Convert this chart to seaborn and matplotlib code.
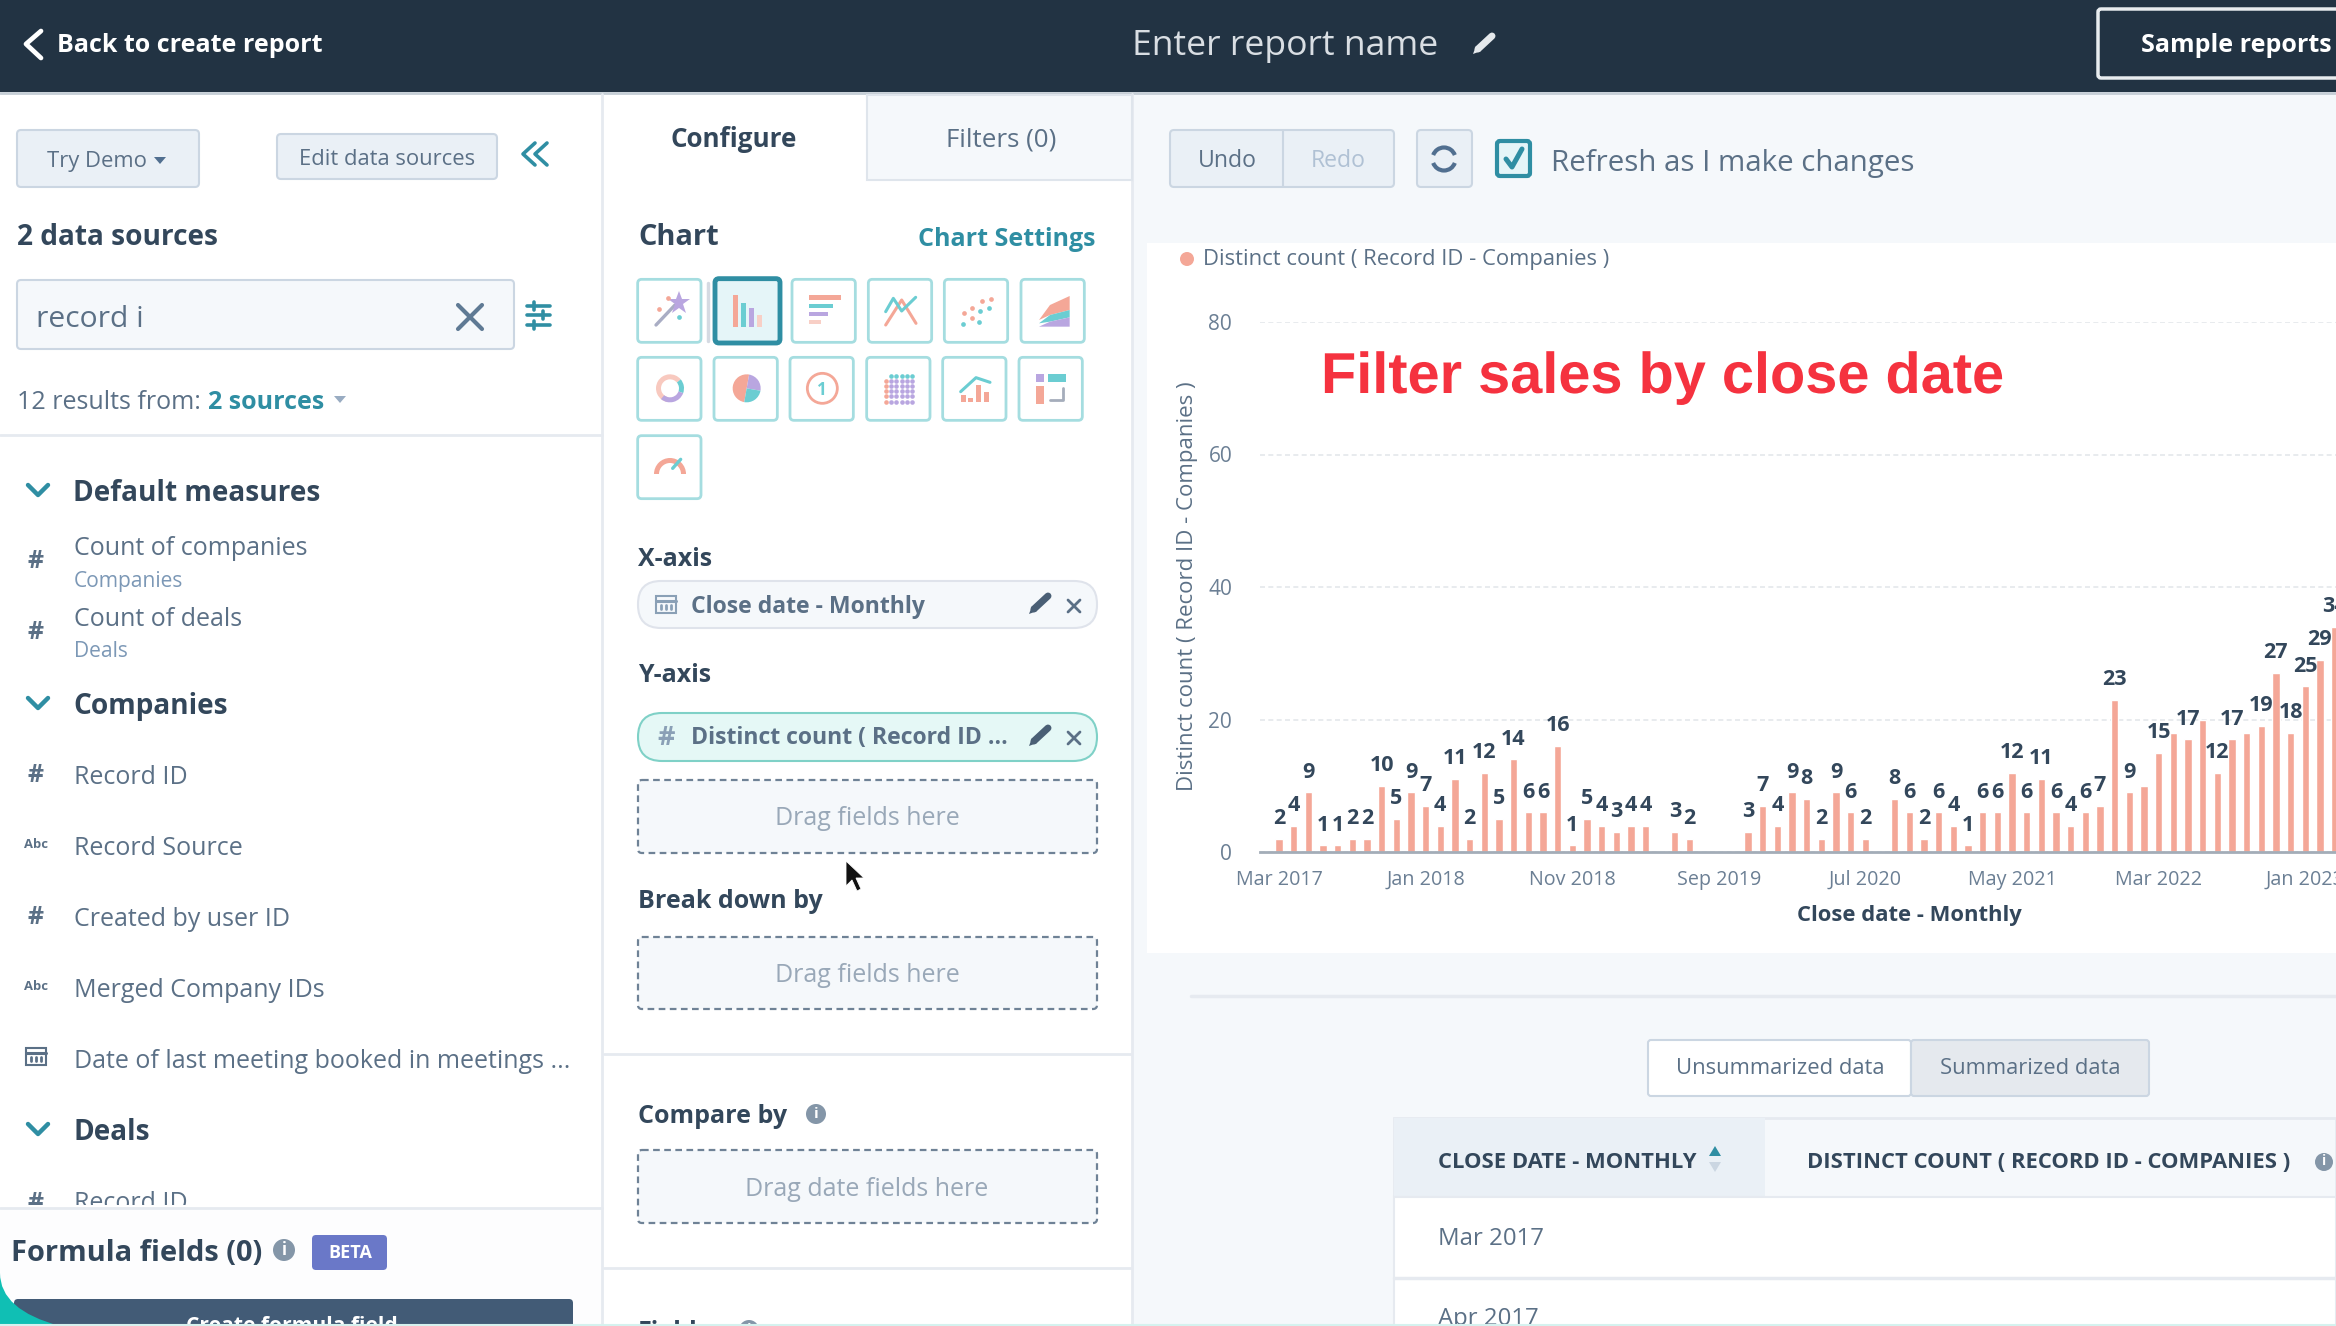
import numpy as np
import pandas as pd
import seaborn as sns
import matplotlib
matplotlib.use("Agg")
import matplotlib.pyplot as plt
import matplotlib.patheffects as pe
from matplotlib.patches import FancyBboxPatch, Rectangle, Circle, Wedge, Polygon, Arc, PathPatch
from matplotlib.path import Path

# chart data
values = [2, 4, 9, 1, 1, 2, 2, 10, 5, 9,
          7, 4, 11, 2, 12, 5, 14, 6, 6, 16, 1, 5,
          4, 3, 4, 4, 0, 3, 2, 0, 0, 0, 3, 7,
          4, 9, 8, 2, 9, 6, 2, 0, 8, 6, 2, 6,
          4, 1, 6, 6, 12, 6, 11, 6, 4, 6, 7, 23,
          9, 10, 15, 18, 17, 20, 12, 17, 18, 19, 27, 18,
          25, 29, 34]
months = pd.date_range("2017-03-01", periods=len(values), freq="MS").strftime("%b %Y").tolist()
hidden_labels = ["Feb 2022", "Apr 2022", "Jun 2022", "Sep 2022"]
tick_labels = ["Mar 2017", "Jan 2018", "Nov 2018", "Sep 2019", "Jul 2020", "May 2021", "Mar 2022", "Jan 2023"]
y_ticks = [0, 20, 40, 60, 80]

W, H = 2336, 1326
DARK = "#33475b"
MID = "#5b7086"
SOFT = "#7c98b6"
TEAL = "#2f8ea3"
SALMON = "#f4a797"
ICON_TEAL = "#6bcdd2"
PURPLE = "#b9a6e0"
LINE = "#e6eaf0"
BG = "#f5f8fb"

sns.set_theme(style="white")
plt.rcParams["font.family"] = ["Open Sans", "DejaVu Sans"]

fig = plt.figure(figsize=(W / 100, H / 100), dpi=100, facecolor="white")
ui = fig.add_axes([0, 0, 1, 1], zorder=0)
ui.set_xlim(0, W)
ui.set_ylim(H, 0)
ui.axis("off")


def txt(x, y, s, px, color=DARK, weight="normal", ha="left", **kw):
    # Open Sans sits a little high when centred, so push it down
    return ui.text(x, y + px * 0.11, s, fontsize=px * 0.72, color=color, fontweight=weight, ha=ha, va="center", **kw)


def box(x0, y0, x1, y1, fc="white", ec="none", lw=1.5, r=3, ls="-", z=1):
    ui.add_patch(FancyBboxPatch((x0, y0), x1 - x0, y1 - y0, boxstyle=f"round,pad=0,rounding_size={r}",
                                fc=fc, ec=ec, lw=lw, ls=ls, zorder=z))


def seg(xs, ys, color=DARK, lw=2, z=3):
    ui.plot(xs, ys, color=color, lw=lw, solid_capstyle="round", zorder=z)


def cross(x, y, r, color=MID, lw=2):
    seg([x - r, x + r], [y - r, y + r], color, lw)
    seg([x - r, x + r], [y + r, y - r], color, lw)


def chevron_down(x, y, color=TEAL):
    seg([x - 10, x, x + 10], [y - 5, y + 5, y - 5], color, 3.2)


def pencil(x, y, color="#4a5f75"):
    seg([x - 6, x + 8], [y + 6, y - 7], color, 5)
    ui.add_patch(Polygon([[x - 11, y + 11], [x - 8, y + 3], [x - 3, y + 8]], fc=color, ec="none", zorder=3))


def info(x, y, r=10):
    ui.add_patch(Circle((x, y), r, fc="#8496a8", ec="none", zorder=3))
    txt(x, y - 2, "i", r * 1.5, "white", "bold", ha="center", zorder=4)


def calendar(x, y, color=MID):
    ui.add_patch(Rectangle((x - 10, y - 8), 20, 17, fc="none", ec=color, lw=1.5, zorder=3))
    seg([x - 10, x + 10], [y - 3, y - 3], color, 2.2)
    for dx in [-5, 0, 5]:
        seg([x + dx, x + dx], [y + 1, y + 5], color, 2)


def caret(x, y, color="#516f90", r=6):
    ui.add_patch(Polygon([[x - r, y - 3], [x + r, y - 3], [x, y + 4]], fc=color, ec="none", zorder=3))


# panels and top bar
ui.add_patch(Rectangle((1133, 92), W - 1133, H - 92, fc=BG, ec="none", zorder=0))
ui.add_patch(Rectangle((0, 0), W, 92, fc="#223343", ec="none", zorder=1))
seg([0, W], [93, 93], "#c5ced6", 2, z=1)
seg([602, 602], [94, H], LINE, 2, z=1)
seg([1132, 1132], [94, H], LINE, 2, z=1)

seg([41, 26, 41], [31, 44, 58], "white", 3.4)
txt(57, 43, "Back to create report", 25, "white", "bold")
txt(1132, 42, "Enter report name", 35.5, "#d9dee3")
pencil(1484, 43, "#e5e9ec")
box(2098, 9, 2400, 78, "#223343", "#e8ecef", 2.5)
txt(2141, 43, "Sample reports", 25, "white", "bold")

# left panel, top
box(17, 130, 199, 187, "#eaf0f6", "#cbd6e2", r=4)
txt(47, 159, "Try Demo", 22, MID)
caret(160, 160)
box(277, 134, 497, 179, "#eaf0f6", "#cbd6e2", r=4)
txt(387, 157, "Edit data sources", 22, MID, ha="center")
seg([535, 523, 535], [143, 154, 165], TEAL, 2.6)
seg([547, 535, 547], [143, 154, 165], TEAL, 2.6)
txt(17, 234, "2 data sources", 28, DARK, "bold")
box(17, 280, 514, 349, BG, "#cbd6e2", r=4)
txt(36, 316, "record i", 30, MID)
cross(470, 317, 12, "#5f7a94", 3)
for fy, fx in zip([306, 315, 325], [534, 543, 534]):
    seg([527, 550], [fy, fy], TEAL, 2.6)
    seg([fx, fx], [fy - 4, fy + 4], TEAL, 2.6)
txt(17, 400, "12 results from:", 25, MID)
txt(208, 400, "2 sources", 25, TEAL, "bold")
caret(340, 399, "#99acc2")
seg([0, 602], [435, 435], LINE, 2)

# field list
for label, y in [("Default measures", 490), ("Companies", 703), ("Deals", 1129)]:
    chevron_down(38, y)
    txt(73, y, label, 28, DARK, "bold")
for label, y in [("Count of companies", 546), ("Count of deals", 617)]:
    txt(74, y, label, 25, MID)
    txt(36, y + 13, "#", 25, MID, "bold", ha="center")
txt(74, 579, "Companies", 21, SOFT)
txt(74, 649, "Deals", 21, SOFT)
for label, y, kind in [("Record ID", 775, "#"), ("Record Source", 846, "Abc"), ("Created by user ID", 917, "#"),
                       ("Merged Company IDs", 988, "Abc"), ("Date of last meeting booked in meetings ...", 1059, "cal")]:
    txt(74, y, label, 25, MID)
    if kind == "#":
        txt(36, y - 2, "#", 25, MID, "bold", ha="center")
    elif kind == "Abc":
        txt(36, y - 3, "Abc", 13, MID, "bold", ha="center")
    else:
        calendar(36, y - 3)
# last row of the list is cut by the formula section, only the top of it shows
for part in [txt(74, 1201, "Record ID", 25, MID), txt(36, 1201, "#", 25, MID, "bold", ha="center")]:
    part.set_clip_on(True)
    part.set_clip_path(Rectangle((0, 1126), W, 79, transform=ui.transData))
seg([0, 602], [1208, 1208], LINE, 2)
ui.add_patch(Rectangle((0, 1209), 601, H - 1209, fc="#fdfdfe", ec="none", zorder=2))

# formula section
txt(11, 1250, "Formula fields (0)", 29, DARK, "bold", zorder=4)
info(284, 1250, 11)
box(312, 1235, 387, 1270, "#6a78c8", "none", r=4, z=3)
txt(350, 1251, "BETA", 18, "white", "bold", ha="center", zorder=4)
box(14, 1299, 573, 1400, "#425b76", "none", r=4, z=4)
txt(292, 1324, "Create formula field", 21, "white", "bold", ha="center", zorder=5)
corner = Path([(0, 1273), (0, 1310), (60, 1326), (0, 1326), (0, 1273)],
              [Path.MOVETO, Path.CURVE3, Path.CURVE3, Path.LINETO, Path.CLOSEPOLY])
ui.add_patch(PathPatch(corner, fc="#10bfb4", ec="none", zorder=6))

# middle panel tabs
box(867, 95, 1132, 180, BG, "#dfe5ec", r=0)
txt(734, 137, "Configure", 26, DARK, "bold", ha="center")
txt(1001, 137, "Filters (0)", 26, MID, ha="center")
txt(638, 234, "Chart", 29, DARK, "bold")
txt(1096, 237, "Chart Settings", 25, TEAL, "bold", ha="right")

# chart type tiles, offsets taken from a 3x crop
zx = lambda v: 620 + v / 3
zy = lambda v: 210 + v / 3
for lefts, top in [([53, 516, 745, 973, 1203], 208), ([53, 282, 510, 740, 968, 1197], 442), ([53], 677)]:
    for left in lefts:
        box(zx(left), zy(top), zx(left + 190), zy(top + 189), "white", "#a5dde0", 2, r=4)
box(zx(285), zy(206), zx(480), zy(399), "#e5f5f8", TEAL, 3.5, r=4)
seg([zx(263), zx(263)], [zy(218), zy(392)], "#d5dae2", 2.5)


def rect(x0, y0, x1, y1, color):
    ui.add_patch(Rectangle((zx(x0), zy(y0)), (x1 - x0) / 3, (y1 - y0) / 3, fc=color, ec="none", zorder=3))


def dots(points, color, size=3.4, marker="o"):
    ui.plot([zx(p[0]) for p in points], [zy(p[1]) for p in points], marker, color=color, ms=size, mew=0, zorder=3)


def poly(points, color):
    ui.add_patch(Polygon([[zx(a), zy(b)] for a, b in points], fc=color, ec="none", zorder=3))


# wand
seg([zx(108), zx(165)], [zy(345), zy(285)], "#a9adc4", 2.4)
dots([(178, 278)], PURPLE, 17, "*")
dots([(143, 263), (118, 297)], SALMON, 3.4)
dots([(176, 320)], ICON_TEAL, 3.4)
# bars
rect(338, 255, 355, 350, SALMON)
rect(362, 278, 377, 350, ICON_TEAL)
rect(387, 293, 402, 350, PURPLE)
rect(412, 316, 427, 350, "#f8cfc6")
# horizontal bars
rect(566, 256, 663, 271, SALMON)
rect(566, 281, 640, 294, ICON_TEAL)
rect(566, 305, 623, 318, PURPLE)
rect(566, 330, 603, 343, "#f8cfc6")
# lines
seg([zx(v) for v in [797, 845, 888]], [zy(v) for v in [345, 270, 340]], SALMON, 2.2)
seg([zx(v) for v in [797, 820, 845, 887]], [zy(v) for v in [305, 265, 303, 262]], ICON_TEAL, 2.2)
# scatter
dots([(1032, 310), (1057, 293), (1085, 272), (1112, 266), (1057, 325)], SALMON)
dots([(1030, 342), (1077, 335), (1080, 303), (1107, 293)], ICON_TEAL)
# area
poly([(1257, 330), (1290, 285), (1349, 258), (1349, 300), (1290, 315)], SALMON)
poly([(1257, 340), (1290, 315), (1349, 300), (1349, 322), (1290, 335)], ICON_TEAL)
poly([(1257, 350), (1290, 335), (1349, 322), (1349, 350)], PURPLE)
# donut
dc = (zx(150), zy(535))
ui.add_patch(Wedge(dc, 14, 100, 320, width=5, fc="#f8c9bf", ec="none", zorder=3))
ui.add_patch(Wedge(dc, 14, 320, 20, width=5, fc=ICON_TEAL, ec="none", zorder=3))
ui.add_patch(Wedge(dc, 14, 20, 130, width=5, fc=PURPLE, ec="none", zorder=3))
# pie
pc = (zx(380), zy(535))
ui.add_patch(Wedge(pc, 14, 100, 280, fc=SALMON, ec="none", zorder=3))
ui.add_patch(Wedge(pc, 14, 280, 10, fc=PURPLE, ec="none", zorder=3))
ui.add_patch(Wedge(pc, 14, 10, 100, fc=ICON_TEAL, ec="none", zorder=3))
# single number
ui.add_patch(Circle((zx(607), zy(535)), 15, fc="none", ec=SALMON, lw=2, zorder=3))
txt(zx(607), zy(533), "1", 17, ICON_TEAL, "bold", ha="center", zorder=4)
# table grid
for r_i in range(6):
    for c_i in range(6):
        col = ICON_TEAL if r_i == 0 else (SALMON if c_i == 0 else PURPLE)
        if r_i == 0 and c_i == 0:
            continue
        dots([(797 + c_i * 16, 497 + r_i * 15.5)], col, 3.3)
# combo
rect(1022, 555, 1038, 577, SALMON)
rect(1045, 565, 1060, 577, SALMON)
rect(1067, 525, 1082, 577, SALMON)
rect(1092, 547, 1106, 577, SALMON)
seg([zx(v) for v in [1022, 1068, 1110]], [zy(v) for v in [545, 503, 517]], ICON_TEAL, 2.2)
# pivot
rect(1247, 493, 1271, 516, PURPLE)
rect(1285, 493, 1337, 516, ICON_TEAL)
rect(1247, 528, 1271, 582, SALMON)
seg([zx(v) for v in [1290, 1330, 1330]], [zy(v) for v in [570, 570, 535]], "#a5adbb", 2)
# gauge
ui.add_patch(Wedge((zx(150), zy(792)), 16, 180, 360, width=5, fc=SALMON, ec="none", zorder=3))
seg([zx(158), zx(182)], [zy(775), zy(748)], ICON_TEAL, 2.4)

# axis wells
txt(638, 557, "X-axis", 25, DARK, "bold")
box(638, 581, 1097, 628, BG, "#dfe3eb", r=23)
calendar(666, 604, "#8aa0b6")
txt(691, 604, "Close date - Monthly", 23, MID, "bold")
pencil(1040, 603)
cross(1074, 606, 6)
txt(638, 673, "Y-axis", 25, DARK, "bold")
box(638, 713, 1097, 761, "#e5f8f6", "#7fd1c7", r=24)
txt(666, 735, "#", 27, "#8aa0b6", "bold", ha="center")
txt(691, 735, "Distinct count ( Record ID ...", 23, MID, "bold")
pencil(1040, 735)
cross(1074, 738, 6)
for y0, y1, tx_y, label in [(780, 853, 816, "Drag fields here"), (937, 1009, 973, "Drag fields here"),
                            (1150, 1223, 1187, "Drag date fields here")]:
    box(638, y0, 1097, y1, BG, "#6f8296", 1.6, r=4, ls=(0, (3, 2)))
    txt(867, tx_y, label, 25, "#99a8b8", ha="center")
ui.add_patch(Polygon([[846, 861], [846, 886], [852, 880], [857, 891], [861, 889], [856, 878], [864, 878]],
                     fc="#111111", ec="white", lw=0.6, zorder=6))
txt(638, 899, "Break down by", 25, DARK, "bold")
seg([604, 1131], [1054, 1054], LINE, 2)
txt(638, 1114, "Compare by", 25, DARK, "bold")
info(816, 1114, 10)
seg([604, 1131], [1268, 1268], LINE, 2)
txt(638, 1330, "Fields", 25, DARK, "bold")
info(749, 1330, 10)

# toolbar above the chart
box(1170, 130, 1394, 187, "#eaf0f6", "#cbd6e2", r=4)
seg([1283, 1283], [131, 186], "#cbd6e2", 1.5)
txt(1227, 158, "Undo", 23, MID, ha="center")
txt(1338, 158, "Redo", 23, "#b0c1d4", ha="center")
box(1417, 130, 1472, 187, "#eaf0f6", "#cbd6e2", r=4)
ui.add_patch(Arc((1444, 159), 23, 23, theta1=200, theta2=340, ec="#516f90", lw=3, zorder=3))
ui.add_patch(Arc((1444, 159), 23, 23, theta1=20, theta2=160, ec="#516f90", lw=3, zorder=3))
box(1497, 141, 1530, 176, "#e5f5f8", TEAL, 3, r=3)
seg([1506, 1512, 1522], [159, 167, 149], TEAL, 3.6)
txt(1551, 160, "Refresh as I make changes", 29.5, MID)

# chart card
ui.add_patch(Rectangle((1147, 243), W - 1147, 710, fc="white", ec="none", zorder=1))
ui.add_patch(Circle((1187, 259), 7, fc=SALMON, ec="none", zorder=3))
txt(1203, 257, "Distinct count ( Record ID - Companies )", 22, MID)

# below the chart
seg([1191, W], [996, 996], LINE, 2.5)
box(1648, 1040, 1911, 1096, "white", "#cbd6e2", r=3)
box(1911, 1040, 2149, 1096, "#e5e9ee", "#cbd6e2", r=3)
txt(1780, 1066, "Unsummarized data", 22, MID, ha="center")
txt(2030, 1066, "Summarized data", 22, MID, ha="center")
ui.add_patch(Rectangle((1394, 1118), W - 1394, 79, fc=BG, ec=LINE, lw=2, zorder=1))
ui.add_patch(Rectangle((1394, 1118), 371, 79, fc="#eaf0f6", ec="none", zorder=1))
ui.add_patch(Rectangle((1394, 1197), W - 1394, H - 1197, fc="white", ec=LINE, lw=1.5, zorder=1))
txt(1438, 1160, "CLOSE DATE - MONTHLY", 22, DARK, "bold")
ui.add_patch(Polygon([[1709, 1156], [1721, 1156], [1715, 1146]], fc=TEAL, ec="none", zorder=3))
ui.add_patch(Polygon([[1709, 1162], [1721, 1162], [1715, 1172]], fc="#cbd6e2", ec="none", zorder=3))
txt(1807, 1160, "DISTINCT COUNT ( RECORD ID - COMPANIES )", 22, DARK, "bold")
info(2324, 1162, 9)
seg([1394, W], [1278, 1278], LINE, 2.5)
txt(1438, 1236, "Mar 2017", 24, MID)
txt(1438, 1316, "Apr 2017", 24, MID)
seg([0, W], [1325, 1325], "#d5f2ef", 1.5, z=7)

# the bar chart itself
chart_left, chart_right, chart_top, chart_base = 1260, W, 322, 852
ax = fig.add_axes([chart_left / W, 1 - chart_base / H, (chart_right - chart_left) / W, (chart_base - chart_top) / H],
                  zorder=1, facecolor="none")
sns.barplot(x=months, y=values, color=SALMON, saturation=1, width=0.5, ax=ax)
bar_labels = ["" if v == 0 or m in hidden_labels else str(v) for m, v in zip(months, values)]
ax.bar_label(ax.containers[0], labels=bar_labels, padding=7, fontsize=15.5, fontweight="bold", color=DARK)

ax.set_xlim(-1.296, 72.1)
ax.set_ylim(0, 80)
ax.set_xticks(range(0, len(values), 10))
ax.set_xticklabels(tick_labels)
ax.set_yticks(y_ticks)
ax.tick_params(axis="x", length=0, pad=13, labelsize=14.2, labelcolor="#6b7f94")
ax.tick_params(axis="y", length=0, pad=20, labelsize=15, labelcolor="#6b7f94")
ax.grid(False)
ax.yaxis.grid(True, color="#e4e7eb", lw=1.2, ls=(0, (3, 2)))
ax.set_axisbelow(True)
sns.despine(ax=ax, left=True, right=True, top=True)
ax.spines["bottom"].set_color("#a3adb8")
ax.spines["bottom"].set_linewidth(2)
ax.set_xlabel("Close date - Monthly", fontsize=15.8, fontweight="bold", color=DARK, va="center")
ax.xaxis.set_label_coords((1909 - chart_left) / (chart_right - chart_left), -(916 - chart_base) / (chart_base - chart_top))
ax.set_ylabel("Distinct count ( Record ID - Companies )", fontsize=16, color=MID, va="center")
ax.yaxis.set_label_coords((1188 - chart_left) / (chart_right - chart_left), (chart_base - 586) / (chart_base - chart_top))

# red caption on top of everything
fig.text(1321 / W, 1 - 378 / H, "Filter sales by close date", fontsize=57.7 * 0.72, fontweight="bold",
         family="Liberation Sans", color="#f5323f", ha="left", va="center", zorder=5,
         path_effects=[pe.withStroke(linewidth=5, foreground="white")])

fig.savefig("out.png", dpi=100)
